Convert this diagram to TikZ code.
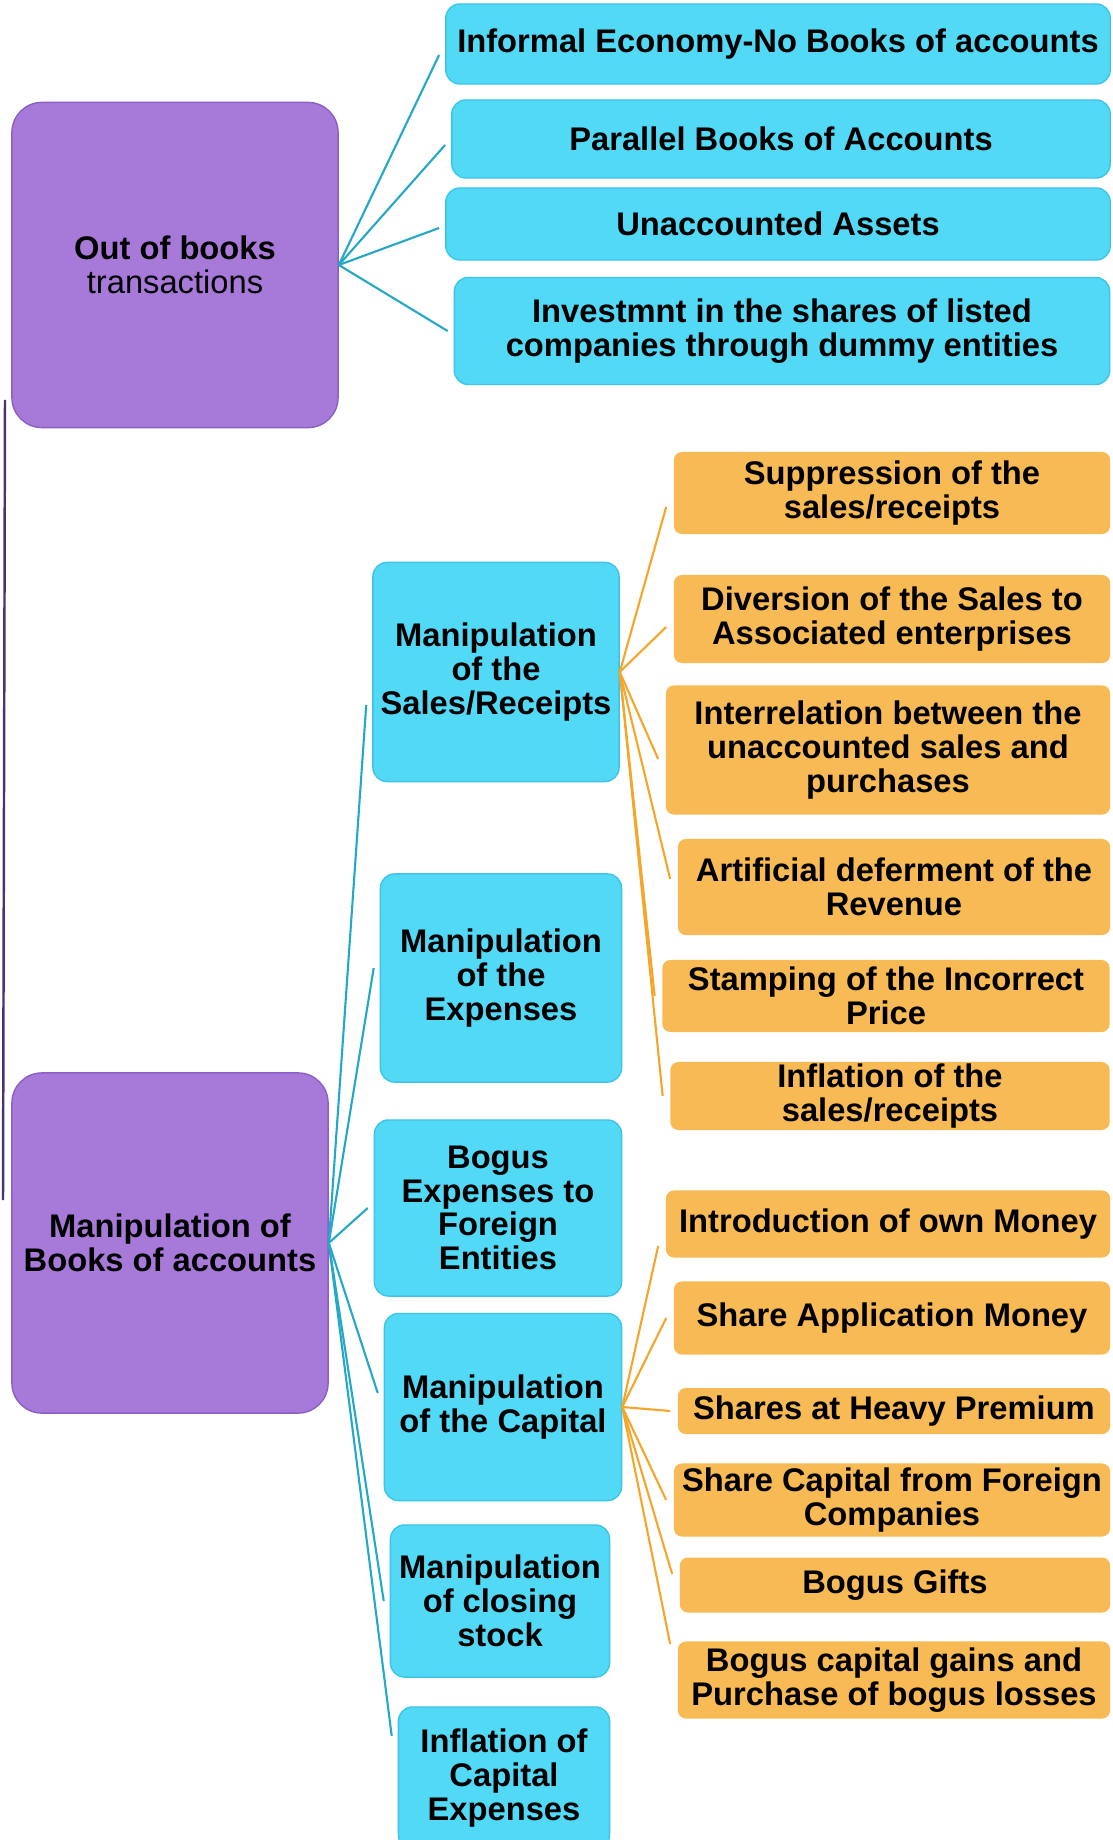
\documentclass[tikz,border=0pt]{standalone}
\usepackage{fontspec}
\setmainfont{Liberation Sans}
\definecolor{mindpurple}{RGB}{167,122,217}
\definecolor{mindpurpledark}{RGB}{138,96,196}
\definecolor{mindblue}{RGB}{82,217,246}
\definecolor{mindbluedark}{RGB}{62,196,232}
\definecolor{mindorange}{RGB}{247,186,84}
\definecolor{linkblue}{RGB}{36,168,200}
\definecolor{linkorange}{RGB}{245,166,42}
\definecolor{linkroot}{RGB}{72,52,112}

\begin{document}
\begin{tikzpicture}[x=0.01cm,y=-0.01cm]

%
% Styles
%
\tikzstyle{boxtext}    = [align=center,inner sep=0pt,font=\fontsize{9.3}{9.6}\selectfont\bfseries]
\tikzstyle{topic}      = [boxtext,rectangle,rounded corners=0.3cm,draw=mindpurpledark,fill=mindpurple]
\tikzstyle{branch}     = [boxtext,rectangle,rounded corners=0.14cm,draw=mindbluedark,fill=mindblue]
\tikzstyle{leaf}       = [boxtext,rectangle,rounded corners=0.08cm,fill=mindorange]
\tikzstyle{bluelink}   = [draw=linkblue,line width=0.6pt]
\tikzstyle{orangelink} = [draw=linkorange,line width=0.6pt]
\tikzstyle{rootlink}   = [draw=linkroot,line width=0.7pt]

\useasboundingbox (0,0) rectangle (1112,1840);

% main topics
\node[topic,minimum width=3.26cm,minimum height=3.25cm] (outbooks) at (175,265) {Out of books\\{\mdseries transactions}};
\node[topic,minimum width=3.16cm,minimum height=3.40cm] (manbooks) at (170,1243) {Manipulation of\\Books of accounts};

% out of books
\node[branch,minimum width=6.64cm,minimum height=0.80cm] (informal) at (778,44)  {Informal Economy-No Books of accounts};
\node[branch,minimum width=6.58cm,minimum height=0.78cm] (parallel) at (781,139) {Parallel Books of Accounts};
\node[branch,minimum width=6.64cm,minimum height=0.72cm] (unacc)    at (778,224) {Unaccounted Assets};
\node[branch,minimum width=6.55cm,minimum height=1.07cm] (dummy)    at (782,331) {Investmnt in the shares of listed\\companies through dummy entities};

% manipulation of books
\node[branch,minimum width=2.46cm,minimum height=2.19cm] (sales)    at (496,672)  {Manipulation\\of the\\Sales/Receipts};
\node[branch,minimum width=2.41cm,minimum height=2.08cm] (expenses) at (501,978)  {Manipulation\\of the\\Expenses};
\node[branch,minimum width=2.47cm,minimum height=1.76cm] (foreign)  at (498,1208) {Bogus\\Expenses to\\Foreign\\Entities};
\node[branch,minimum width=2.37cm,minimum height=1.87cm] (capital)  at (503,1407) {Manipulation\\of the Capital};
\node[branch,minimum width=2.19cm,minimum height=1.52cm] (stock)    at (500,1601) {Manipulation\\of closing\\stock};
\node[branch,minimum width=2.11cm,minimum height=1.42cm] (capex)    at (504,1778) {Inflation of\\Capital\\Expenses};

% sales / receipts
\node[leaf,minimum width=4.36cm,minimum height=0.82cm] (suppress) at (892,493)  {Suppression of the\\sales/receipts};
\node[leaf,minimum width=4.36cm,minimum height=0.88cm] (divert)   at (892,619)  {Diversion of the Sales to\\Associated enterprises};
\node[leaf,minimum width=4.44cm,minimum height=1.29cm] (interrel) at (888,750)  {Interrelation between the\\unaccounted sales and\\purchases};
\node[leaf,minimum width=4.32cm,minimum height=0.96cm] (defer)    at (894,887)  {Artificial deferment of the\\Revenue};
\node[leaf,minimum width=4.47cm,minimum height=0.72cm] (price)    at (886,996)  {Stamping of the Incorrect\\Price};
\node[leaf,minimum width=4.39cm,minimum height=0.68cm] (inflate)  at (890,1096) {Inflation of the\\sales/receipts};

% capital
\node[leaf,minimum width=4.44cm,minimum height=0.67cm] (ownmoney)   at (888,1224) {Introduction of own Money};
\node[leaf,minimum width=4.36cm,minimum height=0.73cm] (appmoney)   at (892,1318) {Share Application Money};
\node[leaf,minimum width=4.32cm,minimum height=0.46cm] (premium)    at (894,1411) {Shares at Heavy Premium};
\node[leaf,minimum width=4.36cm,minimum height=0.73cm] (foreigncap) at (892,1500) {Share Capital from Foreign\\Companies};
\node[leaf,minimum width=4.30cm,minimum height=0.55cm] (gifts)      at (895,1585) {Bogus Gifts};
\node[leaf,minimum width=4.32cm,minimum height=0.77cm] (gains)      at (894,1680) {Bogus capital gains and\\Purchase of bogus losses};

% connectors
\coordinate (rootup)   at (5,400);
\coordinate (rootdown) at (3,1200);
\draw[rootlink] (rootup) -- (rootdown);

\foreach \target/\dy in {informal/-0.11,parallel/-0.06,unacc/-0.04,dummy/0}
  \draw[bluelink] (outbooks.east) -- ([xshift=-0.06cm,yshift=\dy cm]\target.west);

\foreach \target/\dy in {sales/-0.33,expenses/0.10,foreign/0,capital/0.14,stock/0,capex/0.42}
  \draw[bluelink] (manbooks.east) -- ([xshift=-0.06cm,yshift=\dy cm]\target.west);

\foreach \target/\dy in {suppress/-0.14,divert/-0.08,interrel/-0.09,defer/0.08,price/0,inflate/0}
  \draw[orangelink] (sales.east) -- ([xshift=-0.07cm,yshift=\dy cm]\target.west);

\foreach \target/\dy in {ownmoney/-0.22,appmoney/0,premium/0,foreigncap/0,gifts/0.11,gains/0.36}
  \draw[orangelink] (capital.east) -- ([xshift=-0.07cm,yshift=\dy cm]\target.west);

\end{tikzpicture}
\end{document}
